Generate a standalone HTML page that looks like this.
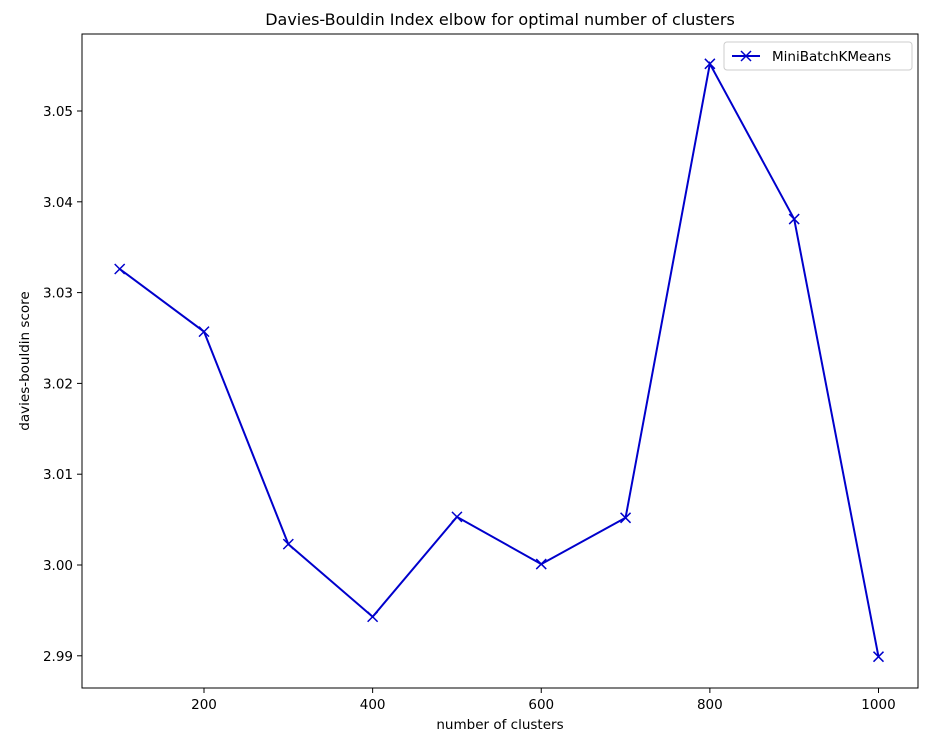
<!DOCTYPE html>
<html><head><meta charset="utf-8"><style>
body{margin:0;background:#fff;}
svg text{font-family:"DejaVu Sans","Liberation Sans",sans-serif;fill:#000;}
</style></head><body>
<svg id="chart" width="947" height="737" xmlns="http://www.w3.org/2000/svg">
<rect width="947" height="737" fill="#fff"/>
<text x="500" y="25" font-size="16" text-anchor="middle">Davies-Bouldin Index elbow for optimal number of clusters</text>
<text x="500" y="729" font-size="13.5" text-anchor="middle">number of clusters</text>
<text x="29" y="361" font-size="13.5" text-anchor="middle" transform="rotate(-90 29 361)">davies-bouldin score</text>
<g id="ticks"></g>
<g id="series"></g>
<rect x="82" y="34" width="836" height="654" fill="none" stroke="#000" stroke-width="1"/>
<g>
<rect x="724" y="42" width="188" height="28" fill="#fff" stroke="#ccc" rx="3"/>
<line x1="732" y1="56" x2="760" y2="56" stroke="#0000cc" stroke-width="2"/>
<path d="M741,51 L751,61 M751,51 L741,61" stroke="#0000cc" stroke-width="1.5"/>
<text x="772" y="61" font-size="13.5">MiniBatchKMeans</text>
</g>
</svg>
<script>
const clusters=[100,200,300,400,500,600,700,800,900,1000];
const scores=[3.0326,3.0257,3.0023,2.9943,3.0053,3.0001,3.0052,3.0552,3.0381,2.9899];
const xTicks=[200,400,600,800,1000];
const yTicks=[2.99,3.00,3.01,3.02,3.03,3.04,3.05];
const yTickLabels=["2.99","3.00","3.01","3.02","3.03","3.04","3.05"];
const NS="http://www.w3.org/2000/svg";
function xs(v){return 119.7+(v-100)*0.8431;}
function ys(v){return 565-(v-3.0)*9080;}
const tg=document.getElementById('ticks');
function mk(tag,attrs,parent){const e=document.createElementNS(NS,tag);for(const k in attrs)e.setAttribute(k,attrs[k]);parent.appendChild(e);return e;}
xTicks.forEach(t=>{
  const l=mk('line',{x1:xs(t),x2:xs(t),y1:688,y2:693,stroke:'#000'},tg);
  
  
  const tx=mk('text',{x:xs(t),y:709,'font-size':13.5,'text-anchor':'middle'},tg);
  
  
  tx.textContent=t;
});
yTicks.forEach((t,i)=>{
  const l=mk('line',{x1:77,x2:82,y1:ys(t),y2:ys(t),stroke:'#000'},tg);
  
  
  const tx=mk('text',{x:73,y:ys(t)+5,'font-size':13.5,'text-anchor':'end'},tg);
  
  
  tx.textContent=yTickLabels[i];
});
const sg=document.getElementById('series');
const pts=clusters.map((c,i)=>xs(c)+','+ys(scores[i])).join(' ');
const pl=mk('polyline',{points:pts,fill:'none',stroke:'#0000cc','stroke-width':2},sg);


clusters.forEach((c,i)=>{
  const x=xs(c),y=ys(scores[i]);
  const m=mk('path',{d:`M${x-5},${y-5} L${x+5},${y+5} M${x+5},${y-5} L${x-5},${y+5}`,stroke:'#0000cc','stroke-width':1.5},sg);
  
  
});
</script>
</body></html>
